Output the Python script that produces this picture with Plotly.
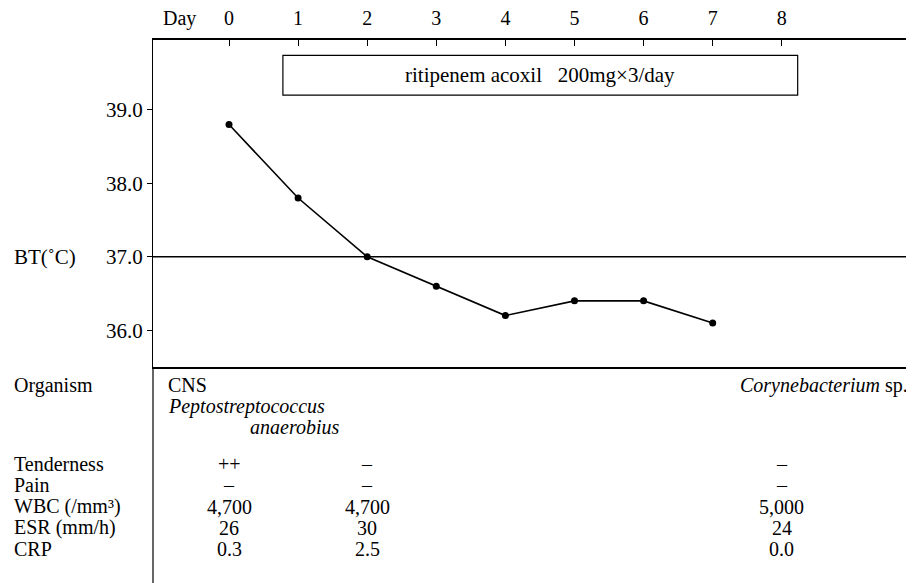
import plotly.graph_objects as go

# ---------------- data ----------------
days = [0, 1, 2, 3, 4, 5, 6, 7]
body_temp = [38.8, 37.8, 37.0, 36.6, 36.2, 36.4, 36.4, 36.1]
day_ticks = [0, 1, 2, 3, 4, 5, 6, 7, 8]
temp_ticks = [36.0, 37.0, 38.0, 39.0]
reference_temp = 37.0

drug_label = "ritipenem acoxil\u00a0\u00a0 200mg\u00d73/day"
drug_start_day = 0.78
drug_end_day = 8.23

table_days = [0, 2, 8]
row_labels = ["Tenderness", "Pain", "WBC (/mm\u00b3)", "ESR (mm/h)", "CRP"]
tenderness = ["++", "\u2013", "\u2013"]
pain = ["\u2013", "\u2013", "\u2013"]
wbc = ["4,700", "4,700", "5,000"]
esr = ["26", "30", "24"]
crp = ["0.3", "2.5", "0.0"]
table_values = [tenderness, pain, wbc, esr, crp]

organism_label = "Organism"
organism_day0 = ["CNS", "<i>Peptostreptococcus</i>", "<i>anaerobius</i>"]
organism_day8 = "<i>Corynebacterium</i> sp."

# ---------------- layout constants ----------------
OFF = 8                      # page body margin
W, H = 914 - OFF, 583 - OFF  # figure size
L = 153 - OFF                # left axis at page x=153
T = 40 - OFF                 # top axis at page y=40
PLOT_BOTTOM = 367 - OFF
PLOT_RIGHT = 911 - OFF
R = W - PLOT_RIGHT
B = H - PLOT_BOTTOM
PH = PLOT_BOTTOM - T
PW = PLOT_RIGHT - L
FONT = "Liberation Serif, Times New Roman, serif"
FS = 20


def py(pix):
    """page pixel y -> paper y"""
    return (PLOT_BOTTOM - (pix - OFF)) / PH


def px(pix):
    """page pixel x -> paper x"""
    return ((pix - OFF) - L) / PW


fig = go.Figure()
fig.add_trace(go.Scatter(
    x=days, y=body_temp, mode="lines+markers",
    line=dict(color="black", width=1.6),
    marker=dict(color="black", size=7),
    showlegend=False, cliponaxis=False,
))

shapes = [
    dict(type="line", xref="paper", yref="y", x0=0, x1=1,
         y0=reference_temp, y1=reference_temp, line=dict(color="black", width=1.5)),
    dict(type="rect", xref="x", yref="y", x0=drug_start_day, x1=drug_end_day,
         y0=39.2, y1=39.74, line=dict(color="black", width=1.2)),
    dict(type="line", xref="paper", yref="paper", x0=0, x1=0,
         y0=0, y1=py(583), line=dict(color="black", width=1.2)),
]


def txt(x, y, text, xanchor="center", xref="paper", yref="paper", size=FS):
    return dict(x=x, y=y, xref=xref, yref=yref, text=text, showarrow=False,
                xanchor=xanchor, yanchor="middle", font=dict(size=size))


ann = []
ann.append(txt((drug_start_day + drug_end_day) / 2, 39.47, drug_label,
               xref="x", yref="y", size=21))
ann.append(txt(px(179), py(18), "Day"))
ann.append(txt(px(12), reference_temp, "BT(\u02daC)", xanchor="left", yref="y", size=21))

# organism row
ann.append(txt(px(12), py(385), organism_label, xanchor="left"))
ann.append(txt(px(166), py(385), organism_day0[0], xanchor="left"))
ann.append(txt(px(166), py(406), organism_day0[1], xanchor="left"))
ann.append(txt(px(341), py(427), organism_day0[2], xanchor="right"))
ann.append(txt(px(910), py(385), organism_day8, xanchor="right"))

# table rows
row_y0, row_step = 464, 21.3
for i, (lab, vals) in enumerate(zip(row_labels, table_values)):
    yy = py(row_y0 + i * row_step)
    ann.append(txt(px(12), yy, lab, xanchor="left"))
    for d, v in zip(table_days, vals):
        ann.append(txt(d, yy, v, xref="x"))

fig.update_layout(
    width=W, height=H,
    margin=dict(l=L, r=R, t=T, b=B, pad=0, autoexpand=False),
    paper_bgcolor="white", plot_bgcolor="white",
    font=dict(family=FONT, size=FS, color="black"),
    shapes=shapes, annotations=ann,
    xaxis=dict(
        side="top", range=[-1.1, 9.87], tickvals=day_ticks,
        ticks="inside", ticklen=6, tickcolor="black", tickwidth=1,
        showline=True, linecolor="black", linewidth=1.5, mirror=True,
        showgrid=False, zeroline=False, ticklabelstandoff=5,
        tickfont=dict(size=FS), automargin=False,
    ),
    yaxis=dict(
        range=[35.5, 39.95], tickvals=temp_ticks, tickformat=".1f",
        ticks="outside", ticklen=5, tickcolor="black", tickwidth=1,
        showline=True, linecolor="black", linewidth=1.2,
        showgrid=False, zeroline=False, tickfont=dict(size=21), automargin=False,
    ),
)

fig.write_html("out.html")
